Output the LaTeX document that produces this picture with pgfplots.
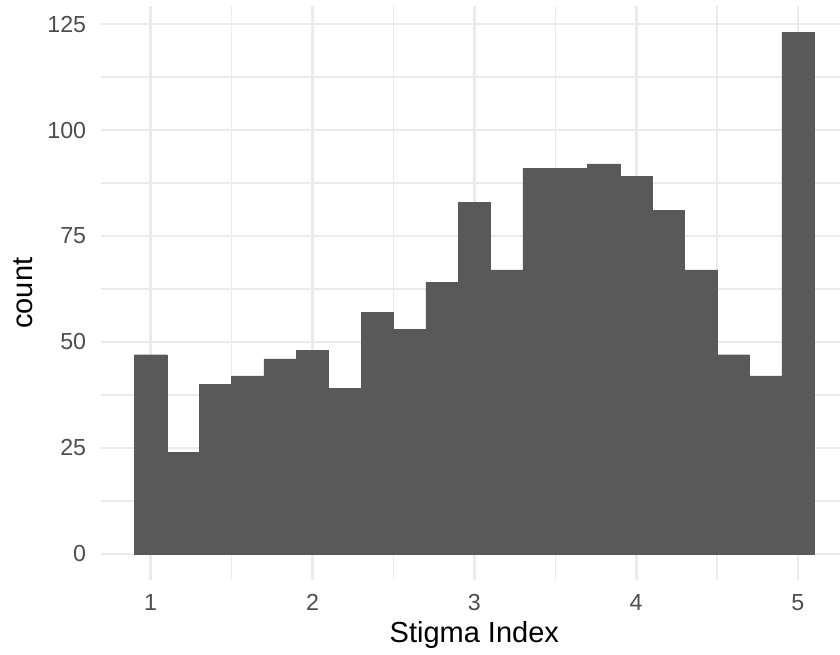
\documentclass[border=0pt]{standalone}
\usepackage{fontspec}
\setmainfont{Liberation Sans}
\usepackage{pgfplots}
\pgfplotsset{compat=1.18}

\definecolor{barcol}{HTML}{595959}
\definecolor{gridcol}{HTML}{EBEBEB}
\definecolor{tickcol}{HTML}{4D4D4D}

\begin{document}
\begin{tikzpicture}
  \useasboundingbox (0,0) rectangle (420bp,327.5bp);
  \begin{axis}[
      at={(50.25bp,37.5bp)}, anchor=south west,
      scale only axis,
      width=369.75bp, height=286.75bp,
      xmin=0.69, xmax=5.26,
      ymin=-6.15, ymax=129.15,
      xtick={1,2,3,4,5},
      ytick={0,25,50,75,100,125},
      minor xtick={1.5,2.5,3.5,4.5},
      minor ytick={12.5,37.5,62.5,87.5,112.5},
      x tick label as interval=false,
      grid=both,
      major grid style={gridcol, line width=1.4bp},
      minor grid style={gridcol, line width=0.7bp},
      axis line style={draw=none},
      major tick length=0pt, minor tick length=0pt,
      /pgf/number format/assume math mode=true,
      ticklabel style={font=\fontsize{11.6bp}{13bp}\selectfont, text=tickcol, inner sep=0pt},
      xticklabel style={anchor=north, yshift=-7bp},
      yticklabel style={anchor=east, xshift=-7bp},
      xlabel={Stigma Index},
      ylabel={count},
      label style={font=\fontsize{14.5bp}{16bp}\selectfont, text=black, inner sep=0pt},
      xlabel style={at={(axis description cs:0.5055,0)}, anchor=base, yshift=-31bp},
      ylabel style={at={(axis description cs:-0.0913,0.5)}, anchor=base, rotate=0},
    ]
    % histogram, bin width 0.2
    \addplot[ybar interval, fill=barcol, draw=barcol, line width=0.2bp]
      coordinates {
        (0.9,47) (1.1,24) (1.3,40) (1.5,42) (1.7,46) (1.9,48) (2.1,39)
        (2.3,57) (2.5,53) (2.7,64) (2.9,83) (3.1,67) (3.3,91) (3.5,91)
        (3.7,92) (3.9,89) (4.1,81) (4.3,67) (4.5,47) (4.7,42) (4.9,123)
        (5.1,123)
      };
  \end{axis}
\end{tikzpicture}
\end{document}
